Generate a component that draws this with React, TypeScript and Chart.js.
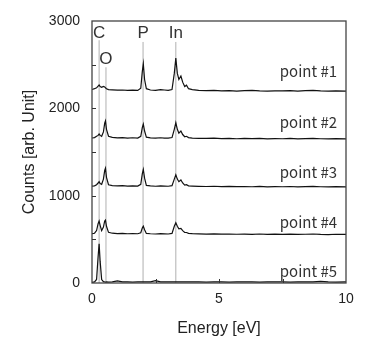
import React, { useEffect, useRef } from "react";
import { Chart, registerables } from "chart.js";

Chart.register(...registerables);

// Energy grid [eV]
const energy = [0.0, 0.1, 0.18, 0.24, 0.28, 0.32, 0.38, 0.45, 0.5, 0.53, 0.57, 0.65, 0.8, 1.0, 1.2, 1.4, 1.6, 1.8, 1.92, 1.98, 2.02, 2.07, 2.14, 2.3, 2.5, 2.7, 2.85, 3.0, 3.15, 3.24, 3.3, 3.36, 3.42, 3.5, 3.57, 3.65, 3.72, 3.8, 3.95, 4.2, 4.5, 4.8, 5.1, 5.4, 5.7, 6.0, 6.3, 6.6, 6.9, 7.2, 7.5, 7.8, 8.1, 8.4, 8.7, 9.0, 9.3, 9.6, 10.0];

const point1 = [2215, 2225, 2235, 2255, 2268, 2250, 2240, 2250, 2245, 2235, 2225, 2215, 2212, 2208, 2210, 2205, 2208, 2205, 2230, 2420, 2510, 2330, 2225, 2210, 2205, 2215, 2210, 2205, 2215, 2400, 2575, 2400, 2330, 2370, 2300, 2250, 2265, 2225, 2215, 2205, 2203, 2205, 2200, 2203, 2198, 2202, 2206, 2200, 2197, 2201, 2199, 2203, 2198, 2202, 2205, 2199, 2197, 2200, 2198];
const point2 = [1660, 1665, 1680, 1690, 1705, 1690, 1680, 1730, 1830, 1855, 1760, 1680, 1668, 1662, 1664, 1660, 1663, 1660, 1680, 1780, 1820, 1740, 1670, 1662, 1658, 1663, 1660, 1658, 1665, 1760, 1835, 1760, 1715, 1740, 1700, 1675, 1680, 1665, 1660, 1657, 1655, 1658, 1654, 1656, 1652, 1655, 1653, 1656, 1651, 1654, 1652, 1655, 1651, 1653, 1656, 1652, 1650, 1653, 1651];
const point3 = [1110, 1112, 1125, 1145, 1160, 1140, 1130, 1190, 1290, 1315, 1210, 1125, 1115, 1112, 1114, 1110, 1112, 1110, 1130, 1250, 1300, 1200, 1118, 1112, 1108, 1112, 1110, 1108, 1115, 1190, 1240, 1190, 1160, 1180, 1145, 1120, 1125, 1112, 1110, 1107, 1105, 1108, 1104, 1106, 1103, 1105, 1102, 1106, 1101, 1104, 1102, 1105, 1101, 1103, 1106, 1102, 1100, 1103, 1101];
const point4 = [565, 570, 600, 680, 710, 660, 600, 640, 710, 720, 650, 580, 570, 566, 568, 564, 567, 564, 575, 630, 650, 610, 568, 564, 561, 565, 563, 561, 568, 650, 690, 650, 620, 625, 600, 580, 578, 568, 565, 562, 560, 563, 559, 561, 558, 560, 557, 561, 556, 559, 557, 560, 556, 558, 561, 557, 555, 558, 556];
const point5 = [8, 12, 40, 300, 450, 250, 40, 15, 12, 11, 12, 11, 12, 25, 13, 12, 11, 12, 12, 13, 14, 12, 12, 13, 28, 13, 12, 12, 13, 13, 14, 13, 12, 12, 13, 12, 12, 13, 12, 12, 11, 13, 12, 11, 12, 13, 12, 11, 12, 13, 12, 11, 12, 13, 12, 20, 12, 11, 12];

const seriesValues = [point1, point2, point3, point4, point5];
const seriesNames = ["point #1", "point #2", "point #3", "point #4", "point #5"];
const seriesLabelY = [2420, 1845, 1270, 700, 135];
const seriesLabelX = 9.65;

// Element marker lines
const elementNames = ["C", "O", "P", "In"];
const elementEnergy = [0.28, 0.55, 2.01, 3.3];
const elementLineTop = [2780, 2470, 2760, 2760];
const elementLabelY = [2863, 2565, 2863, 2863];

const xTickMinor = [2.5, 5, 7.5];
const yTickMinor = [500, 1000, 1500, 2000, 2500];

const annotationPlugin = {
  id: "annot",
  afterDraw(chart: any) {
    const ctx = chart.ctx;
    const xs = chart.scales.x;
    const ys = chart.scales.y;
    const a = chart.chartArea;
    ctx.save();
    // frame
    ctx.strokeStyle = "#444";
    ctx.lineWidth = 1.3;
    ctx.strokeRect(a.left, a.top, a.right - a.left, a.bottom - a.top);
    // inward ticks
    ctx.lineWidth = 1;
    ctx.strokeStyle = "#333";
    ctx.beginPath();
    yTickMinor.forEach((v) => {
      const py = Math.round(ys.getPixelForValue(v)) + 0.5;
      ctx.moveTo(a.left, py);
      ctx.lineTo(a.left + 4, py);
    });
    xTickMinor.forEach((v) => {
      const px = Math.round(xs.getPixelForValue(v)) + 0.5;
      ctx.moveTo(px, a.bottom);
      ctx.lineTo(px, a.bottom - 4);
    });
    ctx.stroke();
    // element labels
    ctx.fillStyle = "#333";
    ctx.font = '17px "Liberation Sans", Arial, sans-serif';
    ctx.textAlign = "center";
    ctx.textBaseline = "middle";
    elementNames.forEach((n, i) => {
      ctx.fillText(n, xs.getPixelForValue(elementEnergy[i]), ys.getPixelForValue(elementLabelY[i]));
    });
    // point labels
    ctx.font = '15px "Noto Sans CJK JP", sans-serif';
    ctx.textAlign = "right";
    seriesNames.forEach((n, i) => {
      ctx.fillText(n, xs.getPixelForValue(seriesLabelX), ys.getPixelForValue(seriesLabelY[i]));
    });
    ctx.restore();
  },
};

export default function App() {
  const ref = useRef<HTMLCanvasElement>(null);
  useEffect(() => {
    document.body.style.margin = "0";
    const datasets: any[] = [];
    elementEnergy.forEach((e, i) => {
      datasets.push({
        label: elementNames[i],
        data: [
          { x: e, y: 0 },
          { x: e, y: elementLineTop[i] },
        ],
        showLine: true,
        borderColor: "#b0b0b0",
        borderWidth: 1,
        pointRadius: 0,
        order: 2,
      });
    });
    seriesValues.forEach((vals, i) => {
      datasets.push({
        label: seriesNames[i],
        data: energy.map((e, j) => ({ x: e, y: vals[j] })),
        showLine: true,
        borderColor: "#111",
        borderWidth: 1.2,
        pointRadius: 0,
        tension: 0,
        order: 1,
      });
    });
    const chart = new Chart(ref.current!, {
      type: "scatter",
      data: { datasets },
      options: {
        animation: false,
        responsive: false,
        layout: { padding: { top: 21, right: 33, left: 0, bottom: 0 } },
        plugins: { legend: { display: false }, tooltip: { enabled: false } },
        scales: {
          x: {
            type: "linear",
            min: 0,
            max: 10,
            grid: { display: false, drawTicks: false },
            border: { display: false },
            ticks: {
              stepSize: 5,
              padding: 8,
              color: "#222",
              font: { family: '"Liberation Sans", Arial, sans-serif', size: 14 },
              callback: (v: any) => String(v),
            },
            title: {
              display: true,
              text: "Energy [eV]",
              color: "#222",
              font: { family: '"Liberation Sans", Arial, sans-serif', size: 16 },
              padding: { top: 0, bottom: 13 },
            },
            afterFit: (s: any) => {
              s.height = 68;
            },
          },
          y: {
            min: 0,
            max: 3000,
            grid: { display: false, drawTicks: false },
            border: { display: false },
            ticks: {
              stepSize: 1000,
              padding: 12,
              color: "#222",
              font: { family: '"Liberation Sans", Arial, sans-serif', size: 14 },
              callback: (v: any) => String(v),
            },
            title: {
              display: true,
              text: "Counts [arb. Unit]",
              color: "#222",
              font: { family: '"Liberation Sans", Arial, sans-serif', size: 16 },
              padding: { top: 20, bottom: 0 },
            },
            afterFit: (s: any) => {
              s.width = 92;
            },
          },
        },
      },
      plugins: [annotationPlugin],
    });
    return () => chart.destroy();
  }, []);
  return (
    <div style={{ position: "absolute", left: 0, top: 0, width: 379, height: 351, background: "#fff" }}>
      <canvas ref={ref} width={379} height={351} style={{ display: "block" }} />
    </div>
  );
}
